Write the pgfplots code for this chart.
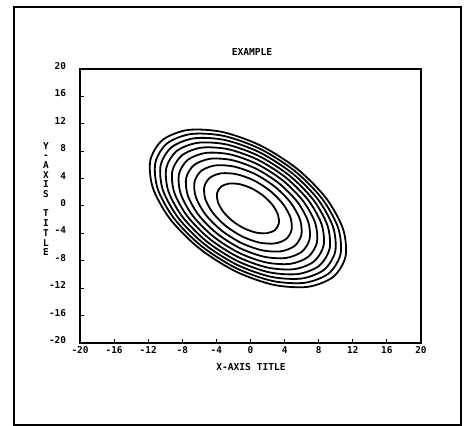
\documentclass[border=0pt]{standalone}
\usepackage{fontspec}
\setmainfont{DejaVu Sans Mono}
\usepackage{pgfplots}
\pgfplotsset{compat=1.18}
\begin{document}
\begin{tikzpicture}
\path[use as bounding box] (0,0) rectangle (466bp,426bp);
\draw[line width=1.4bp] (14bp,1bp) rectangle (461bp,419bp);
\begin{axis}[
  at={(80bp,83bp)}, anchor=south west,
  scale only axis, width=341bp, height=274bp,
  xmin=-20, xmax=20, ymin=-20, ymax=20,
  xtick={-20,-16,...,20}, ytick={-20,-16,...,20},
  tick align=inside, xtick pos=left, ytick pos=left,
  major tick length=4bp,
  axis line style={line width=1.2bp},
  every tick/.style={black, line width=1bp},
  /pgf/number format/assume math mode=true,
  tick label style={font=\fontsize{9.4bp}{11bp}\selectfont\bfseries},
  yticklabel style={anchor=east, xshift=-10.5bp, yshift=3bp},
  ell/.style={black, line width=1.8bp, smooth cycle, shift={(axis direction cs:-0.3,-0.35)}},
]
\addplot[ell] coordinates {(1.826,1.826) (2.897,0.477) (3.527,-0.945) (3.621,-2.223) (3.162,-3.162) (2.223,-3.621) (0.945,-3.527) (-0.477,-2.897) (-1.826,-1.826) (-2.897,-0.477) (-3.527,0.945) (-3.621,2.223) (-3.162,3.162) (-2.223,3.621) (-0.945,3.527) (0.477,2.897)};
\addplot[ell] coordinates {(2.582,2.582) (4.097,0.674) (4.988,-1.337) (5.120,-3.143) (4.472,-4.472) (3.143,-5.120) (1.337,-4.988) (-0.674,-4.097) (-2.582,-2.582) (-4.097,-0.674) (-4.988,1.337) (-5.120,3.143) (-4.472,4.472) (-3.143,5.120) (-1.337,4.988) (0.674,4.097)};
\addplot[ell] coordinates {(3.163,3.163) (5.018,0.825) (6.109,-1.637) (6.271,-3.850) (5.477,-5.477) (3.850,-6.271) (1.637,-6.109) (-0.825,-5.018) (-3.163,-3.163) (-5.018,-0.825) (-6.109,1.637) (-6.271,3.850) (-5.477,5.477) (-3.850,6.271) (-1.637,6.109) (0.825,5.018)};
\addplot[ell] coordinates {(3.652,3.652) (5.794,0.953) (7.054,-1.890) (7.241,-4.446) (6.325,-6.325) (4.446,-7.241) (1.890,-7.054) (-0.953,-5.794) (-3.652,-3.652) (-5.794,-0.953) (-7.054,1.890) (-7.241,4.446) (-6.325,6.325) (-4.446,7.241) (-1.890,7.054) (0.953,5.794)};
\addplot[ell] coordinates {(4.083,4.083) (6.478,1.066) (7.886,-2.114) (8.096,-4.970) (7.071,-7.071) (4.970,-8.096) (2.114,-7.886) (-1.066,-6.478) (-4.083,-4.083) (-6.478,-1.066) (-7.886,2.114) (-8.096,4.970) (-7.071,7.071) (-4.970,8.096) (-2.114,7.886) (1.066,6.478)};
\addplot[ell] coordinates {(4.473,4.473) (7.096,1.167) (8.639,-2.315) (8.868,-5.445) (7.746,-7.746) (5.445,-8.868) (2.315,-8.639) (-1.167,-7.096) (-4.473,-4.473) (-7.096,-1.167) (-8.639,2.315) (-8.868,5.445) (-7.746,7.746) (-5.445,8.868) (-2.315,8.639) (1.167,7.096)};
\addplot[ell] coordinates {(4.831,4.831) (7.665,1.261) (9.331,-2.501) (9.579,-5.881) (8.367,-8.367) (5.881,-9.579) (2.501,-9.331) (-1.261,-7.665) (-4.831,-4.831) (-7.665,-1.261) (-9.331,2.501) (-9.579,5.881) (-8.367,8.367) (-5.881,9.579) (-2.501,9.331) (1.261,7.665)};
\addplot[ell] coordinates {(5.164,5.164) (8.194,1.348) (9.976,-2.673) (10.240,-6.287) (8.944,-8.944) (6.287,-10.240) (2.673,-9.976) (-1.348,-8.194) (-5.164,-5.164) (-8.194,-1.348) (-9.976,2.673) (-10.240,6.287) (-8.944,8.944) (-6.287,10.240) (-2.673,9.976) (1.348,8.194)};
\addplot[ell] coordinates {(5.478,5.478) (8.691,1.430) (10.581,-2.836) (10.861,-6.668) (9.487,-9.487) (6.668,-10.861) (2.836,-10.581) (-1.430,-8.691) (-5.478,-5.478) (-8.691,-1.430) (-10.581,2.836) (-10.861,6.668) (-9.487,9.487) (-6.668,10.861) (-2.836,10.581) (1.430,8.691)};
\addplot[ell] coordinates {(5.774,5.774) (9.161,1.507) (11.153,-2.989) (11.449,-7.029) (10.000,-10.000) (7.029,-11.449) (2.989,-11.153) (-1.507,-9.161) (-5.774,-5.774) (-9.161,-1.507) (-11.153,2.989) (-11.449,7.029) (-10.000,10.000) (-7.029,11.449) (-2.989,11.153) (1.507,9.161)};
\end{axis}
\node[font=\fontsize{9.6bp}{11bp}\selectfont\bfseries] at (252bp,374bp) {EXAMPLE};
\node[font=\fontsize{9.6bp}{11bp}\selectfont\bfseries] at (251bp,59bp) {X-AXIS TITLE};
\node[font=\fontsize{9.4bp}{9.7bp}\selectfont\bfseries, align=center, inner sep=0pt] at (46bp,227bp) {Y\\-\\A\\X\\I\\S\\\mbox{}\\T\\I\\T\\L\\E};
\end{tikzpicture}
\end{document}
